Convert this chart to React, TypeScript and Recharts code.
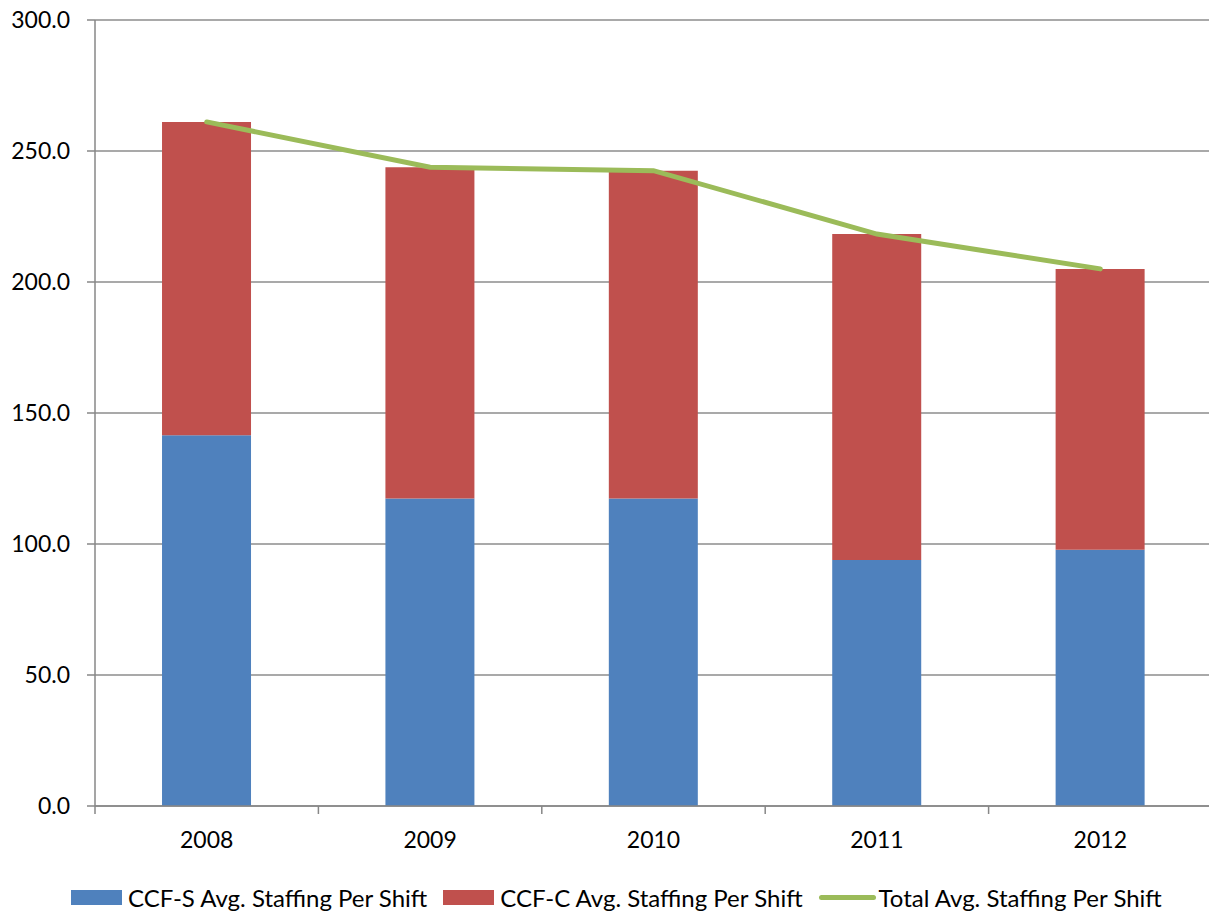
import React from 'react';
import {
  ComposedChart, Bar, Line, XAxis, YAxis, CartesianGrid, Legend, usePlotArea,
} from 'recharts';

const YEARS = ['2008', '2009', '2010', '2011', '2012'];
const CCF_S = [141.5, 117.4, 117.4, 93.9, 97.8];
const CCF_C = [119.6, 126.4, 125.1, 124.4, 107.2];
const TOTAL = [261.1, 243.8, 242.5, 218.3, 205.0];
const Y_TICKS = [0, 50, 100, 150, 200, 250, 300];

const SERIES = [
  { key: 'ccfS', name: 'CCF-S Avg. Staffing Per Shift', color: '#4F81BD', kind: 'bar' },
  { key: 'ccfC', name: 'CCF-C Avg. Staffing Per Shift', color: '#C0504D', kind: 'bar' },
  { key: 'total', name: 'Total Avg. Staffing Per Shift', color: '#9BBB59', kind: 'line' },
];

const data = YEARS.map((year, i) => ({
  year,
  ccfS: CCF_S[i],
  ccfC: CCF_C[i],
  total: TOTAL[i],
}));

const FONT = 'Lato, "Open Sans", sans-serif';
const AXIS_GREY = '#878787';

// tick marks between the categories, like Excel draws them
const CategoryBoundaryTicks = () => {
  const area = usePlotArea();
  if (!area) return null;
  const step = area.width / YEARS.length;
  const bottom = area.y + area.height;
  return (
    <g>
      {Array.from({ length: YEARS.length + 1 }, (_, i) => (
        <line
          key={i}
          x1={area.x + i * step}
          x2={area.x + i * step}
          y1={bottom}
          y2={bottom + 8}
          stroke={AXIS_GREY}
          strokeWidth={1.5}
        />
      ))}
    </g>
  );
};

const renderLegend = () => (
  <div
    style={{
      display: 'flex',
      alignItems: 'center',
      height: 34,
      paddingLeft: 71,
      fontFamily: FONT,
      fontSize: 24,
      color: '#000',
    }}
  >
    {SERIES.map((s) => (
      <div key={s.key} style={{ display: 'flex', alignItems: 'center', marginRight: 16 }}>
        {s.kind === 'bar' ? (
          <span style={{ display: 'inline-block', width: 51, height: 15, background: s.color, marginRight: 6 }} />
        ) : (
          <span style={{ display: 'inline-block', width: 57, height: 5, borderRadius: 3, background: s.color, marginRight: 3 }} />
        )}
        <span>{s.name}</span>
      </div>
    ))}
  </div>
);

const App: React.FC = () => {
  return (
    <div style={{ position: 'absolute', left: 0, top: 0, background: '#fff', overflow: 'hidden', width: 1209, height: 914 }}>
      <ComposedChart
        width={1209}
        height={914}
        data={data}
        margin={{ top: 20, right: -3, left: 0, bottom: 0 }}
        barCategoryGap="30%"
      >
        <CartesianGrid vertical={false} stroke="#8c8c8c" strokeWidth={1.5} />
        <XAxis
          dataKey="year"
          height={74}
          axisLine={{ stroke: AXIS_GREY, strokeWidth: 1.5 }}
          tickLine={false}
          tickSize={0}
          tickMargin={26}
          tick={{ fill: '#000', fontSize: 23, fontFamily: FONT }}
        />
        <YAxis
          width={95}
          domain={[0, 300]}
          ticks={Y_TICKS}
          interval={0}
          tickFormatter={(v: number) => v.toFixed(1)}
          axisLine={{ stroke: AXIS_GREY, strokeWidth: 1.5 }}
          tickLine={{ stroke: AXIS_GREY, strokeWidth: 1.5 }}
          tickSize={8}
          tickMargin={17}
          tick={{ fill: '#000', fontSize: 23, fontFamily: FONT }}
        />
        <Legend verticalAlign="bottom" content={renderLegend} />
        <Bar dataKey="ccfS" name={SERIES[0].name} stackId="staff" fill={SERIES[0].color} isAnimationActive={false} />
        <Bar dataKey="ccfC" name={SERIES[1].name} stackId="staff" fill={SERIES[1].color} isAnimationActive={false} />
        <Line
          type="linear"
          dataKey="total"
          name={SERIES[2].name}
          stroke={SERIES[2].color}
          strokeWidth={5}
          strokeLinecap="round"
          dot={false}
          activeDot={false}
          isAnimationActive={false}
        />
        <CategoryBoundaryTicks />
      </ComposedChart>
    </div>
  );
};

export default App;
